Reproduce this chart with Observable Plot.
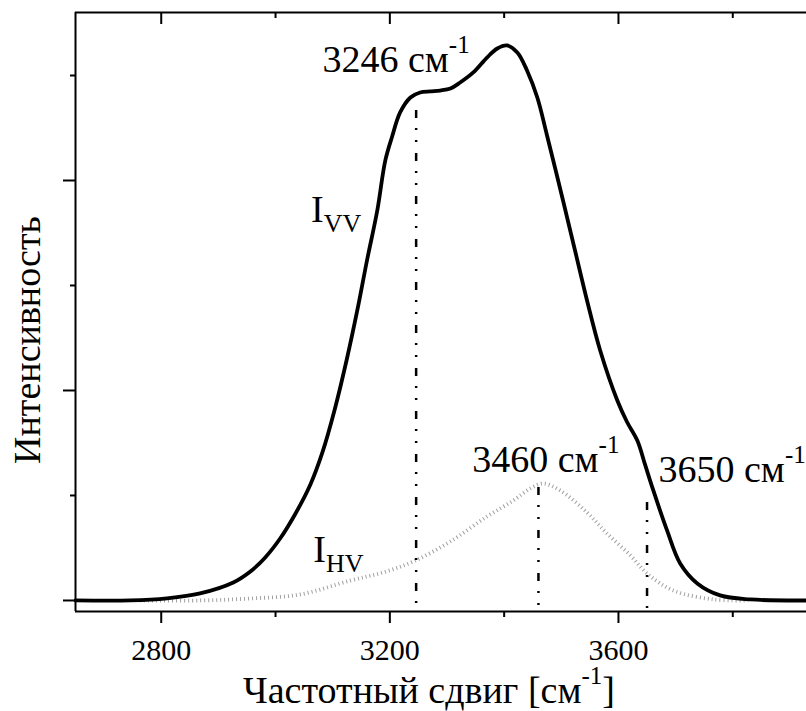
<!DOCTYPE html>
<html><head><meta charset="utf-8">
<script src="https://cdn.jsdelivr.net/npm/d3@7"></script>
<script src="https://cdn.jsdelivr.net/npm/@observablehq/plot@0.6"></script>
<style>
body{margin:0;background:#fff}
</style>
</head><body><div id="chart"></div>
<script>
// I_VV (solid)
const vvX = [2650,2746,2810,2868,2926,2956,2982,3008,3034,3061,3082,3104,3125,3143,3160,3178,3192,3204,3218,3236,3253,3271,3288,3306,3323,3346,3370,3388,3405,3423,3440,3458,3475,3503,3524,3545,3568,3598,3615,3633,3647,3661,3685,3708,3738,3778,3831,3929];
const vvY = [0,0,0.02,0.067,0.171,0.276,0.41,0.59,0.819,1.105,1.41,1.829,2.305,2.762,3.238,3.714,4.19,4.419,4.648,4.79,4.838,4.848,4.857,4.876,4.933,5.029,5.171,5.257,5.286,5.219,5.048,4.79,4.429,3.81,3.333,2.857,2.381,1.905,1.7,1.524,1.286,1.048,0.667,0.352,0.162,0.048,0.01,0];
// I_HV (dotted)
const hvX = [2763,2868,2956,3043,3131,3188,3241,3306,3370,3416,3446,3468,3498,3545,3580,3621,3650,3696,3766,3822];
const hvY = [0,0,0.019,0.057,0.19,0.267,0.371,0.562,0.8,0.952,1.067,1.114,1.048,0.838,0.638,0.429,0.257,0.095,0.01,0];
// axes
const xDomain = [2650, 3929];
const yDomain = [-0.105, 5.6];
const xMajor = [2800, 3200, 3600];
const xMinor = [3000, 3400, 3800];
const yMajor = [0, 2, 4];
const yMinor = [1, 3, 5];
// marker lines
const peakX = [3246, 3460, 3650];
const peakTop = [4.667, 1.076, 0.933];
// labels
const labelText = ["3246 см^{-1}", "3460 см^{-1}", "3650 см^{-1}", "I_{VV}", "I_{HV}"];
const labelX = [3082, 3344, 3670, 3062, 3066];
const labelY = [5.03, 1.219, 1.124, 3.6, 0.362];
const xTitle = "Частотный сдвиг [см^{-1}]";
const yTitle = "Интенсивность";

const FONT = "'Liberation Serif', 'Times New Roman', serif";

const svg = Plot.plot({
  width: 806, height: 711,
  marginLeft: 75, marginRight: 0, marginTop: 12, marginBottom: 100,
  style: `background: white; color: black; font-family: ${FONT};`,
  x: {domain: xDomain},
  y: {domain: yDomain},
  marks: [
    Plot.line(hvX, {x: d => d, y: (d, i) => hvY[i], stroke: "#a0a0a0", strokeWidth: 3.8, strokeDasharray: "1,3", strokeLinecap: "butt", curve: "catmull-rom"}),
    Plot.ruleX(peakX, {x: d => d, y1: (d, i) => peakTop[i], y2: yDomain[0], stroke: "black", strokeWidth: 2.5, strokeDasharray: "8,10,2,10,2,11"}),
    Plot.line(vvX, {x: d => d, y: (d, i) => vvY[i], stroke: "black", strokeWidth: 3.8, curve: "catmull-rom"}),
    Plot.ruleX([xDomain[0]], {stroke: "black", strokeWidth: 2}),
    Plot.ruleY(yDomain, {stroke: "black", strokeWidth: 2}),
    Plot.tickX(xMajor, {x: d => d, insetBottom: 587, stroke: "black", strokeWidth: 2}),
    Plot.tickX(xMinor, {x: d => d, insetBottom: 593, stroke: "black", strokeWidth: 2}),
    Plot.axisX({ticks: xMajor, tickSize: 12, tickPadding: 15, fontSize: 30, tickFormat: d => String(d), strokeWidth: 2, label: null}),
    Plot.axisX({ticks: xMinor, tickSize: 6, tickFormat: () => "", strokeWidth: 2, label: null}),
    Plot.axisY({ticks: yMajor, tickSize: 12, tickFormat: () => "", strokeWidth: 2, label: null}),
    Plot.axisY({ticks: yMinor, tickSize: 5, tickFormat: () => "", strokeWidth: 2, label: null}),
    Plot.text(labelText, {x: (d, i) => labelX[i], y: (d, i) => labelY[i], text: d => d, textAnchor: "start", lineAnchor: "bottom", fontSize: 38, fill: "black"})
  ]
});
svg.removeAttribute("font-family");
svg.style.setProperty("font-family", FONT, "important");

const ns = "http://www.w3.org/2000/svg";
function richify(el) {
  const s = el.textContent;
  if (!/[\^_]\{/.test(s)) return;
  const parts = s.split(/(\^\{[^}]*\}|_\{[^}]*\})/).filter(p => p !== "");
  el.textContent = "";
  let shift = 0;
  for (const p of parts) {
    const ts = document.createElementNS(ns, "tspan");
    let target = 0, content = p;
    if (p.startsWith("^{")) { target = -19; content = p.slice(2, -1); ts.setAttribute("font-size", 25); }
    else if (p.startsWith("_{")) { target = 10; content = p.slice(2, -1); ts.setAttribute("font-size", 26); }
    ts.setAttribute("dy", target - shift);
    shift = target;
    ts.textContent = content;
    el.appendChild(ts);
  }
}

const root = d3.select(svg);
root.append("text").attr("x", 243).attr("y", 703).attr("text-anchor", "start").attr("font-size", 38).attr("fill", "black").text(xTitle);
root.append("text").attr("transform", "translate(40,340) rotate(-90)").attr("text-anchor", "middle").attr("font-size", 38).attr("fill", "black").text(yTitle);
root.selectAll("g").each(function() { if (this.hasAttribute("font-family")) this.removeAttribute("font-family"); });
root.selectAll("text").each(function() {
  this.style.setProperty("font-family", FONT, "important");
  richify(this);
});

document.getElementById("chart").appendChild(svg);
</script>
</body></html>
